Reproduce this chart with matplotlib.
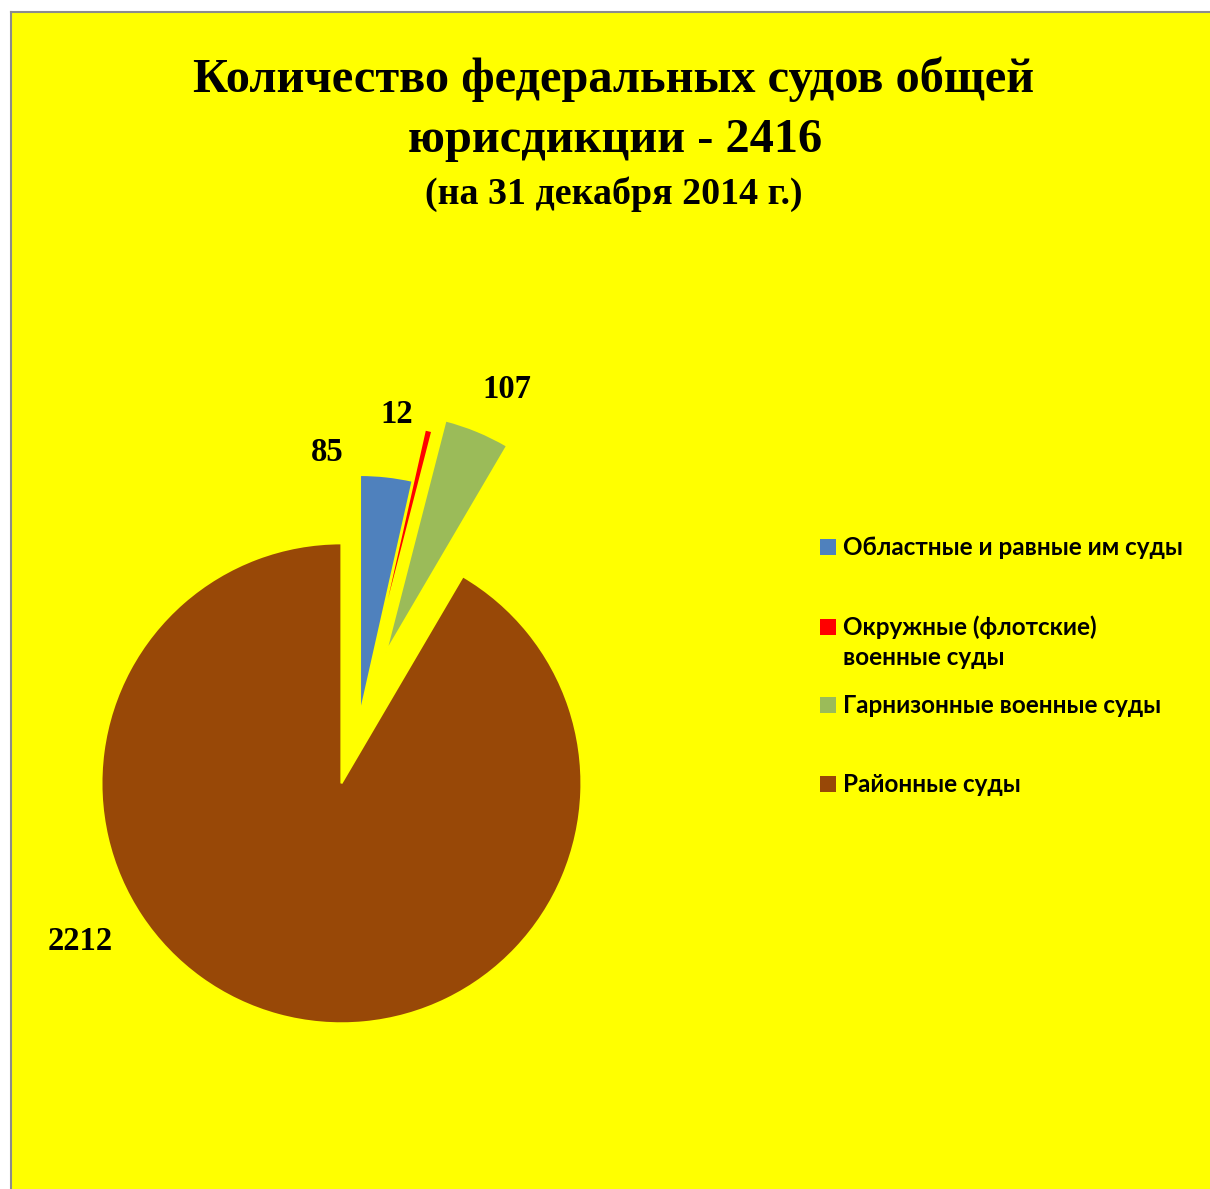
import matplotlib
matplotlib.use("Agg")
import matplotlib.pyplot as plt
from matplotlib.patches import Rectangle
from matplotlib.lines import Line2D

# ---- data ----
categories = ["Областные и равные им суды",
              "Окружные (флотские)\nвоенные суды",
              "Гарнизонные военные суды",
              "Районные суды"]
values = [85, 12, 107, 2212]
value_labels = ["85", "12", "107", "2212"]
colors = ["#4F81BD", "#FF0000", "#9BBB59", "#984807"]
explode = [0.0, 0.22, 0.28, 0.295]

title_line1 = "Количество федеральных судов общей"
title_line2 = "юрисдикции - 2416"
title_line3 = "(на 31 декабря 2014 г.)"

W, H = 1210, 1189
fig = plt.figure(figsize=(W / 100, H / 100), dpi=100)
fig.patch.set_facecolor("white")

def fx(px):
    return px / W

def fy(py):
    return 1 - py / H

# yellow chart area with grey border (left + top visible)
fig.patches.append(Rectangle((fx(11), 0), 1 - fx(11), fy(12), transform=fig.transFigure,
                             facecolor="#FFFF00", edgecolor="none", zorder=-2))
fig.lines.append(Line2D([fx(11), fx(11)], [0, fy(12)], transform=fig.transFigure,
                        color="#8C8C8C", lw=1.5, zorder=-1))
fig.lines.append(Line2D([fx(11), 1], [fy(12), fy(12)], transform=fig.transFigure,
                        color="#8C8C8C", lw=1.5, zorder=-1))

# pie axes: centre (360, 715) px, radius 240 px
R = 240
lim = 1.45
half = lim * R
cx, cy = 360, 715
ax = fig.add_axes([fx(cx - half), fy(cy + half), 2 * half / W, 2 * half / H])
ax.set_zorder(2)
ax.set_facecolor("none")
wedges, _ = ax.pie(values, explode=explode, colors=colors, startangle=90,
                   counterclock=False, radius=1.0,
                   wedgeprops=dict(edgecolor="#FFFF00", linewidth=1.5))
ax.set_xlim(-lim, lim)
ax.set_ylim(-lim, lim)
ax.set_aspect("equal", adjustable="box")
ax.axis("off")

label_pos = [(-0.1375, 1.092), (0.153, 1.254), (0.611, 1.358), (-1.167, -0.945)]
for txt, (x, y) in zip(value_labels, label_pos):
    ax.text(x, y, txt, ha="center", va="center", fontsize=23.5,
            fontweight="bold", family="Liberation Serif", color="black")

# title
tkw = dict(ha="center", va="baseline", family="Liberation Serif",
           fontweight="bold", color="black")
fig.text(fx(614), fy(92), title_line1, fontsize=34.8, **tkw)
fig.text(fx(615), fy(152), title_line2, fontsize=34.8, **tkw)
fig.text(fx(613.5), fy(204), title_line3, fontsize=27.3, **tkw)

# legend (manual, matching Excel layout)
baselines = [555, 635, 713, 792]
line_gap = 30
for cat, col, base in zip(categories, colors, baselines):
    fig.patches.append(Rectangle((fx(820), fy(base)), 16 / W, 16 / H,
                                 transform=fig.transFigure, facecolor=col,
                                 edgecolor="none", zorder=3))
    for i, line in enumerate(cat.split("\n")):
        fig.text(fx(843), fy(base + i * line_gap), line, ha="left", va="baseline",
                 fontsize=17.5, fontweight="bold", family="Lato", color="black")

fig.savefig("out.png", dpi=100, facecolor=fig.get_facecolor())
